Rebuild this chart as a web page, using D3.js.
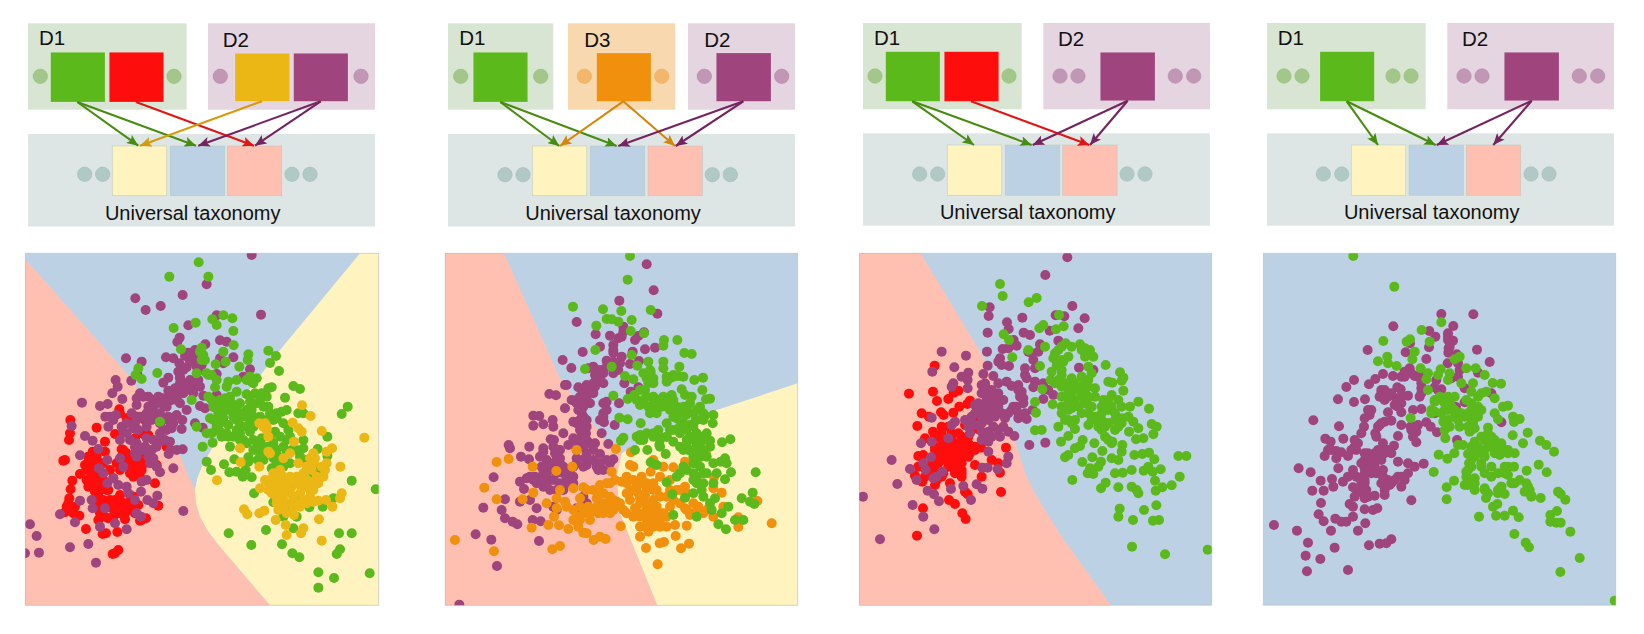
<!DOCTYPE html>
<html><head><meta charset="utf-8"><style>html,body{margin:0;background:#fff}svg{display:block}text{font-family:"Liberation Sans",sans-serif;fill:#111}</style>
<script src="https://cdn.jsdelivr.net/npm/d3@7"></script></head><body><svg id="c" width="1644" height="634"></svg>
<script>
// ---------- Data: embedding coordinates ----------
const p1Red=[151,510,150,550,147,570,230,533,255,575,135,630,130,632,180,672,157,692,152,718,148,745,140,770,135,787,165,770,178,797,198,837,235,810,258,850,248,852,292,846,265,805,280,800,315,808,360,812,378,805,350,768,415,767,405,700,410,645,375,555,365,550,345,565,440,590,320,505,298,478,335,497,372,502,285,552,305,598,320,620,330,640,345,660,360,635,340,680,300,660,280,685,255,605,218,605,205,620,195,645,225,640,215,665,235,680,220,700,205,710,240,720,235,740,250,765,245,785,275,775,285,750,305,770,330,760,300,735,330,735,355,765,290,640,250,640,270,660,240,705,330,670,350,640,325,630,360,680,285,910,295,900,278,912,315,790,260,720,225,770,205,640];
const p1RedCore=[230,620,240,640,210,630,200,660,225,690,250,690,265,720,230,750,250,750,265,760,225,725,240,770,270,750,300,750,290,770,320,760,340,740,305,620,315,640,335,655,350,650,320,610,310,600,345,670,355,650,240,790,280,770,300,790,345,790,325,780,365,810,370,620,375,640,365,660,330,500,350,500,375,510,300,490,375,550,385,555,235,660,200,690,210,700,215,680,150,770,160,790,145,760,255,800,240,760,230,700];
const p1Purple=[695,15,560,103,488,135,346,145,377,180,422,168,723,194,590,196,505,226,479,263,472,276,556,283,600,271,620,275,640,322,600,325,610,340,318,325,365,335,352,372,334,392,438,322,460,325,495,318,520,325,525,300,505,308,478,340,500,352,545,345,535,362,590,372,690,358,670,380,475,365,480,385,445,383,430,398,510,390,535,390,525,405,480,400,500,410,465,415,445,422,430,445,455,435,480,420,510,420,470,440,440,460,415,440,385,440,360,430,350,465,335,490,400,470,430,465,385,470,395,490,420,490,450,515,440,540,487,510,485,537,525,520,548,533,540,468,555,475,500,480,470,495,550,437,590,435,580,470,287,390,293,410,277,430,307,447,263,462,240,468,186,458,256,500,288,495,265,530,155,528,195,558,218,572,235,597,180,616,300,570,305,530,320,520,350,510,355,540,380,530,330,570,350,580,380,565,400,570,420,550,430,540,450,575,452,600,470,600,488,598,446,612,385,600,385,620,400,640,420,667,460,655,345,610,300,625,310,650,262,630,237,655,250,670,280,685,262,700,295,705,320,710,325,730,365,695,380,690,363,725,412,737,400,760,382,750,345,750,363,800,285,820,240,830,320,838,255,775,218,775,215,750,180,752,165,817,120,793,350,790,490,783,30,823,50,858,15,910,57,908,150,892,205,882,228,938];
const p1PurpleBand=[400,450,410,460,440,470,455,450,470,450,490,430,500,400,515,400,540,410,520,430,480,460,370,440,350,445,380,490,405,500,420,520,430,510,395,510,445,500,460,520,455,535,480,380,490,360,510,335,530,350,380,510,360,500,345,520,340,535,310,545,320,550,375,590,395,600,410,590,420,575,435,570,400,625,410,650,390,640,345,590,350,620,365,600,280,510,270,500];
const p1Green=[536,37,448,80,565,80,610,196,637,205,577,208,590,225,527,218,461,234,640,243,641,286,545,293,483,298,610,305,550,315,555,330,685,313,683,330,745,302,768,318,750,339,777,363,587,343,617,335,658,350,355,355,347,375,365,387,412,369,565,375,575,375,530,370,590,390,690,380,710,385,695,395,650,390,625,395,620,410,585,412,565,440,590,455,630,440,650,425,680,433,705,430,745,415,755,412,820,408,840,417,795,443,740,440,720,450,690,455,660,460,635,460,610,465,580,470,595,490,570,505,610,505,625,525,650,510,675,500,695,480,745,470,720,500,785,485,800,480,770,490,760,510,530,530,420,515,515,450,590,530,605,560,575,550,560,550,548,590,578,578,630,590,625,560,650,540,690,545,680,580,715,590,690,520,765,545,770,505,805,540,660,570,725,565,750,560,800,570,835,490,850,490,965,492,983,470,922,560,922,617,893,597,850,595,850,570,815,600,800,610,770,600,760,625,730,630,713,630,685,635,685,622,643,628,612,643,560,635,573,660,628,667,650,665,668,680,695,682,677,660,755,655,790,650,860,630,893,660,900,680,995,692,1067,718,702,730,760,757,830,750,868,772,908,770,940,745,800,775,790,800,830,800,820,835,738,840,626,850,694,885,786,883,817,910,838,922,957,850,995,850,960,898,950,912,895,967,942,984,1049,970,895,1013,810,560,775,620,840,620];
const p1GreenCore=[575,450,600,470,620,480,640,480,660,490,680,480,700,500,710,460,730,470,750,490,640,500,660,525,680,530,700,530,720,520,740,510,600,520,580,510,600,545,620,550,640,560,660,550,670,570,700,570,720,580,740,590,780,560,790,520,790,590,760,580,700,600,720,610,730,610,830,600,810,640,860,660,880,670,770,640,700,400,680,390,540,305,545,330,560,370,600,450,615,445,650,470,690,440,725,430];
const p1Yellow=[846,466,872,498,905,543,1033,563,936,595,920,605,718,520,735,520,740,540,745,560,818,518,835,535,845,545,822,575,660,595,662,637,745,605,790,625,810,610,835,640,880,610,882,640,920,640,915,660,961,650,718,650,735,690,745,700,775,680,760,670,810,680,860,690,880,700,845,715,815,710,790,700,760,720,720,715,591,691,770,745,790,750,870,740,895,700,910,680,895,752,918,750,965,730,960,745,937,770,840,770,822,795,775,780,767,810,797,825,800,855,850,835,843,850,897,808,905,872,672,778,682,793,718,790,733,782,800,720,830,680,850,670,775,710,755,730,820,740,870,720,880,755,790,770];
const p1YellowCore=[780,660,790,680,800,690,750,690,770,700,790,720,810,730,830,700,850,700,870,700,840,730,850,750,830,760,810,760,790,730,770,730,750,710,745,720,770,760,780,770,800,790,820,770,860,760,880,720,890,680,875,660,860,650,845,690,870,625,885,625,905,650,740,530,730,530,750,610,800,700];
const p2Purple=[620,43,641,121,538,152,652,191,410,216,550,230,550,245,612,247,467,253,510,257,535,265,595,258,585,270,480,290,428,306,520,285,520,308,615,298,645,293,578,305,545,320,530,340,500,332,570,342,597,333,368,330,394,354,460,350,445,355,490,370,480,385,535,360,520,370,553,400,595,412,572,425,375,405,380,405,328,432,348,436,415,412,440,405,430,425,465,410,470,390,500,455,490,490,480,510,492,517,524,525,537,460,450,460,430,470,410,450,395,450,375,475,425,490,400,515,425,525,440,530,438,550,485,550,370,550,332,568,342,570,280,497,298,498,338,510,340,530,280,527,310,523,206,585,210,595,268,590,243,620,267,628,310,595,310,605,350,600,345,610,360,625,400,565,420,565,440,570,465,580,480,612,385,585,410,625,435,625,505,582,520,628,510,640,490,660,470,650,440,645,430,650,400,650,370,650,330,650,320,630,305,650,310,670,285,680,260,685,240,695,252,717,290,700,310,710,330,720,360,700,380,700,400,680,400,700,370,720,340,770,350,780,290,775,240,755,195,748,130,773,185,780,195,805,218,815,232,823,278,810,302,814,161,682,270,750,430,740,440,760,410,775,297,873,107,853,154,869,171,948,58,1064,480,770];
const p2PurpleBand=[480,370,470,380,460,400,450,420,440,440,420,440,410,460,415,480,430,450,460,430,430,500,420,510,410,520,440,510,420,540,430,550,450,580,430,590,410,600,460,600,440,610,410,575,490,460,500,480,490,500,350,620,340,640,320,640,310,650,330,660,350,670,320,680,340,690,370,670,380,680,390,670,300,690,280,690,270,680,310,690,320,705,350,720,410,640,460,630,480,640,500,630,475,660,545,260,520,300,480,360,490,400,465,375,500,350,520,335,540,340,360,600,360,640,300,620,340,590];
const p2Orange=[410,600,528,597,573,607,397,650,349,663,278,650,170,636,206,627,133,713,170,748,248,748,280,728,320,760,350,745,375,755,350,775,400,715,430,712,380,770,460,720,480,705,510,700,525,690,545,695,515,665,570,645,580,650,640,630,632,665,670,650,700,652,735,635,798,612,822,682,845,728,820,715,735,710,710,720,690,690,660,680,605,680,590,710,560,700,570,725,620,715,650,720,680,740,640,750,600,745,570,750,530,755,500,765,470,745,490,730,445,770,430,790,410,800,450,810,475,790,510,790,550,780,585,775,620,780,650,770,690,770,735,775,760,760,790,790,750,795,620,810,600,830,650,800,680,830,705,825,740,827,625,845,600,860,707,858,659,880,672,876,747,881,723,895,618,894,653,943,542,829,325,825,357,826,385,837,275,833,342,800,415,830,430,848,440,850,461,870,480,860,497,867,360,888,337,898,45,870,162,904,995,820,895,802,895,831,952,753,850,770,820,800,800,780,775,770,770,785,580,800,560,790,530,770,490,790,510,740,420,745,360,720,610,700,640,700,640,790,600,800,660,830,670,790];
const p2OrangeCore=[400,780,420,770,440,780,470,770,490,760,510,770,520,780,500,700,470,720,440,720,560,680,580,690,600,700,620,700,640,720,660,740,600,760,620,760,640,770,660,790,700,750,720,720,740,730,760,790,600,790,620,790,640,810,660,810,680,800,620,830,640,830,580,720,560,730,540,760,690,720,720,760,740,780,420,810,400,810,450,790,490,770,520,750,595,730,615,735];
const p2Green=[570,18,563,89,632,180,399,170,489,178,544,183,500,207,515,208,535,215,575,210,469,227,572,243,612,250,672,270,670,287,712,270,733,309,755,312,466,300,575,315,625,335,592,347,670,335,718,350,670,355,715,378,700,375,680,395,690,385,435,357,515,350,555,378,580,388,632,365,640,385,625,400,615,420,763,390,789,383,787,420,725,418,735,435,695,435,640,440,655,450,620,440,583,435,563,447,520,437,600,465,630,490,625,470,665,470,690,480,720,480,750,460,770,480,755,440,798,448,810,446,795,497,820,495,818,520,790,510,767,510,738,495,710,505,680,520,655,540,620,550,590,560,600,555,538,503,563,508,602,520,550,563,543,572,585,600,622,600,658,585,677,612,700,575,720,590,750,560,770,550,800,550,810,572,846,577,871,568,855,625,842,635,860,640,745,600,770,610,760,640,730,650,710,680,650,645,632,637,760,670,790,670,830,670,855,688,873,667,947,667,820,700,770,700,760,730,735,743,697,733,680,697,825,745,810,760,790,740,785,720,815,780,845,790,865,770,770,800,700,795,835,823,858,838,885,810,905,745,938,728,930,755,943,762,910,810,800,620,780,580,740,570,690,540,660,590,720,530,750,525,700,450,670,440,600,420,590,450,650,465,640,480,700,500,730,520,760,600,810,590,770,630,660,560,680,560,640,550];
const p2GreenCore=[700,460,680,455,660,460,640,450,630,470,610,450,650,490,680,470,710,470,730,470,740,480,760,490,720,490,700,480,780,470,790,490,770,510,760,530,740,540,720,550,700,540,680,560,660,570,640,560,610,570,600,570,780,560,790,570,760,570,740,590,730,600,770,590,790,600,780,620,760,620,770,640,780,650,740,660,770,680,760,690,790,700,720,670,800,670,820,640,640,400,620,385,610,370,630,360,700,380,680,380,730,380];
const p3Red=[239,347,162,431,234,425,296,428,310,422,345,452,337,462,280,447,246,453,313,470,200,490,222,500,258,487,266,495,295,488,187,528,234,545,260,550,280,530,330,525,370,538,210,565,240,590,265,580,290,570,320,560,340,580,360,590,378,593,453,593,410,630,430,640,360,645,190,618,205,615,240,620,265,610,300,600,330,610,290,630,310,640,320,620,190,650,240,655,265,670,180,677,202,695,240,705,285,700,320,680,300,660,380,680,435,668,438,726,330,725,338,733,282,750,300,762,204,775,322,790,332,807,186,857,400,432,320,580,280,600,330,590,300,580,270,620,345,610,310,600,230,670,365,500];
const p3RedCore=[240,600,260,600,280,590,300,590,320,600,340,600,350,590,360,600,280,610,300,610,320,610,340,620,280,630,300,630,320,640,300,650,280,650,260,630,250,640,310,660,320,660,300,670,320,670,340,560,350,540,310,550,290,550,260,530,240,560,255,565,250,620,230,640,220,650,210,680,245,690,260,680];
const p3Purple=[637,22,571,75,652,168,404,172,401,198,502,203,602,196,628,199,689,205,670,235,584,242,456,217,461,237,398,248,506,248,525,255,476,270,485,287,555,283,610,272,396,305,443,297,460,295,520,305,550,305,535,330,530,310,435,325,430,335,440,345,462,348,540,355,510,355,510,375,515,385,398,347,385,372,672,353,715,360,260,305,333,317,298,352,232,365,340,368,320,380,338,390,338,415,295,400,290,410,415,378,390,400,380,405,430,400,455,395,470,408,490,405,500,425,505,445,540,395,535,412,565,400,580,420,565,447,595,435,380,430,395,450,420,440,445,450,360,465,370,460,400,470,420,480,440,490,470,480,485,470,505,460,460,490,490,505,515,507,533,480,450,505,230,503,350,500,300,515,360,525,380,520,415,530,400,545,435,560,460,545,478,558,523,585,571,578,345,550,330,510,280,565,290,525,230,575,198,580,228,622,110,630,165,657,205,640,212,660,235,685,245,680,262,665,382,653,398,653,400,605,460,620,455,640,428,658,288,717,325,708,365,703,382,716,218,722,237,733,252,754,185,690,127,702,24,740,173,765,205,800,238,838,75,868,348,750,635,410];
const p3PurpleBand=[390,430,400,440,410,450,420,460,430,470,390,470,380,480,370,480,400,490,410,480,380,500,400,510,420,500,360,490,430,430,410,420,395,415,490,420,495,440,475,470,490,490,510,490,345,510,340,530,380,545,395,560,430,540,445,530,410,560,380,570,400,575];
const p3Green=[435,102,443,138,381,168,521,157,545,144,612,195,553,235,565,225,603,238,626,229,446,253,462,270,570,290,632,280,650,290,675,283,690,295,705,300,715,320,610,300,595,325,605,345,625,335,472,322,520,300,555,348,752,345,795,367,805,383,800,392,805,422,590,365,587,390,620,375,650,385,680,380,710,370,620,410,640,420,660,410,690,420,720,415,760,395,772,398,562,418,540,456,543,488,593,463,620,440,640,450,680,440,720,440,770,435,745,450,790,450,850,455,882,476,825,470,700,465,650,475,620,490,640,510,610,530,660,510,700,525,740,510,770,470,800,505,820,500,850,535,890,522,905,530,895,553,822,545,780,540,740,540,730,520,540,541,560,540,640,558,618,575,660,537,683,570,718,580,660,595,675,588,760,570,772,575,802,585,800,605,742,603,712,622,682,636,640,615,630,622,865,565,843,568,838,615,862,612,882,608,898,628,970,618,994,618,770,625,790,630,738,635,730,650,705,655,698,670,715,672,780,670,803,668,830,660,866,662,880,650,893,665,917,658,900,692,974,680,652,690,752,698,738,715,790,712,830,710,845,720,850,730,902,722,922,712,950,706,794,776,790,800,834,810,867,780,904,766,894,812,912,810,831,890,930,913,1058,899,700,490,680,490,660,450,760,520,640,480];
const p3GreenCore=[600,310,620,290,620,330,640,400,600,400,610,390,630,400,650,430,670,420,690,400,700,410,680,410,700,440,690,460,710,470,670,470,690,450,640,440,650,460,620,470,720,500,740,490,760,480,750,470,760,450,780,490,740,470,710,510,730,530,750,530,760,520,780,510,730,500,660,400,700,350,690,320,680,300,640,320,620,360,700,390,750,560,770,580,790,530,800,520,800,470,630,510,650,520,630,475,835,515];
const p4Purple=[550,192,646,193,406,229,586,228,514,243,532,260,570,250,570,270,585,272,513,292,572,295,571,308,329,300,456,280,443,307,657,299,505,327,695,336,596,313,569,340,600,340,605,360,600,380,660,368,455,355,440,365,430,380,470,378,490,370,405,378,375,372,352,387,333,403,288,390,265,411,240,448,288,456,321,448,370,420,380,420,365,440,418,412,428,418,380,450,415,445,410,465,430,460,450,437,490,415,485,440,535,390,530,412,550,418,620,415,620,457,594,471,700,430,730,517,166,511,243,529,256,566,320,505,340,480,335,495,390,487,430,487,465,480,490,477,400,512,380,515,365,525,352,550,355,560,318,530,310,550,290,570,295,600,430,525,458,530,480,525,505,517,518,530,537,547,475,545,465,560,475,577,420,558,408,587,202,566,218,575,210,600,235,603,250,607,270,618,200,618,235,625,241,655,122,655,158,667,188,692,222,687,226,710,197,722,163,722,189,759,255,695,285,660,270,680,295,680,330,610,345,620,360,600,375,580,400,610,420,635,320,640,330,660,350,650,375,660,450,640,470,650,497,641,320,690,325,720,380,690,380,720,395,705,430,710,420,680,450,670,440,690,350,737,380,735,285,712,305,715,320,745,290,740,275,762,285,770,460,751,320,778,345,780,358,775,182,793,197,814,232,806,250,815,265,815,285,800,322,820,219,842,300,842,48,825,117,842,150,878,143,917,187,927,147,964,230,893,270,960,333,886,365,881,385,880,400,868,597,570,530,490,580,385];
const p4PurpleBand=[320,610,330,620,340,630,350,610,360,620,370,600,380,610,320,630,330,640,340,650,350,630,370,630,390,600,320,655,310,640,320,670,340,670,355,670,375,680,310,700,300,720,320,700,330,740,315,730,370,700,390,690,400,700,410,690,430,680,280,600,290,590,300,580,240,610,220,600,370,430,390,440,400,430,420,470,430,440,360,530,370,520,460,540,470,530,440,380,460,370,480,380,490,400,490,430,330,480,540,420,570,260,575,290];
const p4Green=[286,18,409,110,550,217,491,240,376,273,446,275,456,268,515,275,470,305,388,320,463,328,360,334,390,340,416,348,605,320,590,328,625,355,653,355,680,375,548,358,540,375,575,370,570,390,505,388,510,420,488,355,510,370,610,400,645,400,704,399,729,401,640,425,685,425,530,455,545,440,580,445,710,445,735,470,750,467,458,504,520,490,530,485,560,460,570,480,610,490,650,470,670,480,710,490,720,508,765,500,785,507,768,516,556,515,575,530,605,530,640,510,650,535,690,533,690,550,764,556,809,548,795,580,846,572,865,585,888,605,562,565,600,585,615,585,650,575,680,570,710,570,730,580,750,600,770,610,725,615,680,600,630,612,589,610,542,614,568,626,527,666,633,640,670,640,700,650,750,650,768,650,842,644,806,662,866,667,625,665,650,685,625,680,680,670,720,670,750,675,588,692,566,712,566,748,620,705,650,720,680,715,730,710,765,700,785,690,805,700,815,720,800,725,820,737,848,744,684,744,740,732,720,720,900,725,908,732,922,749,705,770,718,762,663,800,714,797,740,797,765,782,782,802,897,783,877,795,877,815,895,818,908,818,937,845,769,852,803,878,813,892,965,924,907,966,1070,1052,640,460,660,500,635,545,720,595,640,630,700,680];
const p4GreenCore=[550,450,565,450,580,470,590,480,560,480,550,490,570,510,590,500,600,510,620,500,630,490,640,480,650,490,660,470,645,520,630,530,640,540,570,440,590,440,625,450,660,440,670,430,640,590,650,600,660,610,680,620,670,650,650,620,640,650,630,660,700,590,720,590,740,600,730,610,750,610,710,610,720,600,690,580,700,560,660,590,740,650,740,670,760,700,770,700,730,710,720,730,640,690,630,705,650,700,680,720,690,730,670,560,820,740,810,710,560,540,530,450,520,480];
// decision regions (same embedding coordinates)
const p1Pink=[16,10,16,28,320,370,470,590,500,665,525,720,528,760,540,800,565,845,600,890,750,1066,16,1066];
const p1Sand=[1020,10,1076,10,1076,1066,750,1066,600,890,565,845,540,800,528,760,525,720,532,685,548,645,640,480,780,300];
const p2Pink=[16,10,192,10,360,385,500,575,545,610,530,680,540,790,652,1066,16,1066];
const p2Sand=[1073,400,1073,1066,652,1066,540,790,530,680,545,610,580,590,700,530,830,480];
const p3Pink=[13,10,197,10,390,330,470,540,495,620,515,680,540,730,570,780,620,860,768,1066,13,1066];
const colors={green:"#5cb91b",red:"#fe0d0d",purple:"#a0447e",gold:"#ebb715",orange:"#f0900c",blue:"#bdd1e5",pink:"#ffc0b2",sand:"#fff4c0"};
const pairs=a=>d3.range(0,a.length,2).map(i=>[a[i],a[i+1]]);
const panels=[
 {dx:[16,1076],dy:[10,1066],rx:[25.3,378.7],regions:[[p1Pink,"pink"],[p1Sand,"sand"]],series:[[p1Red.concat(p1RedCore),"red"],[p1Purple.concat(p1PurpleBand),"purple"],[p1Green.concat(p1GreenCore),"green"],[p1Yellow.concat(p1YellowCore),"gold"]]},
 {dx:[16,1073],dy:[10,1066],rx:[445.3,797.7],regions:[[p2Pink,"pink"],[p2Sand,"sand"]],series:[[p2Purple.concat(p2PurpleBand),"purple"],[p2Orange.concat(p2OrangeCore),"orange"],[p2Green.concat(p2GreenCore),"green"]]},
 {dx:[13,1070],dy:[10,1066],rx:[859.3,1211.7],regions:[[p3Pink,"pink"]],series:[[p3Red.concat(p3RedCore),"red"],[p3Purple.concat(p3PurpleBand),"purple"],[p3Green.concat(p3GreenCore),"green"]]},
 {dx:[16,1073],dy:[10,1066],rx:[1263.3,1615.7],regions:[],series:[[p4Purple.concat(p4PurpleBand),"purple"],[p4Green.concat(p4GreenCore),"green"]]}
];
// ---------- Schematics ----------
const dom={green:{bg:"#d9e5d3",dot:"#a3c78a",st:"#94bd78"},purple:{bg:"#e5d5e0",dot:"#c297b5",st:"#b687a8"},orange:{bg:"#f8d8ae",dot:"#f3b76b",st:"#efae5b"},uni:{bg:"#dee6e5",dot:"#b0c9c5",st:"#9fbdb8"}};
const arrowCol={green:"#478c10",red:"#e21414",gold:"#d69b0a",orange:"#d4860c",purple:"#74245f"};
const diagrams=[
 {boxes:[["green",28,186.7,"D1",39,45],["purple",208,375,"D2",222.7,47]],y0:23.3,y1:109.7,sq:[["green",50.7,105,52.3,102],["red",109.3,163.7,52.3,102],["gold",235,289.7,53.3,101.3],["purple",293.7,348,53.3,101.3]],
  dots:[["green",40.3],["green",174],["purple",220.3],["purple",361]],dotY:76.3,ux:[28,375],uy:[134,226.5],usq:[112.3,170.3,227.3],uw:54.4,usy:[146,195.7],ud:[84.7,102.7,292,310],udy:174.3,tx:192.7,ty:220,
  arrows:[["green",77.3,102,138.3,145.7],["green",77.3,102,196,145.7],["red",136,102,254,145.7],["gold",262,101.3,140,145.7],["purple",320.7,101.3,198.3,145.7],["purple",320.7,101.3,255,145.7]]},
 {boxes:[["green",448,553.3,"D1",459.3,45],["orange",568,675.3,"D3",584.3,47],["purple",688,795,"D2",704.3,47]],y0:23.3,y1:109.7,sq:[["green",473.3,527.7,52.3,102],["orange",596.7,651,53,101.3],["purple",716.3,771,53,101.3]],
  dots:[["green",460.7],["green",540.7],["orange",584.3],["orange",661.7],["purple",704.3],["purple",781.7]],dotY:76.3,ux:[448,795],uy:[134,226.5],usq:[532.3,590.3,648],uw:54.4,usy:[146,195.7],ud:[505,523,712.3,730.3],udy:174.7,tx:613,ty:220,
  arrows:[["green",500.3,102,559.3,146],["green",500.3,102,616.7,146],["orange",623.3,101.3,560,146],["orange",623.3,101.3,675,146],["purple",743.3,101.3,618.3,146],["purple",743.3,101.3,675.7,146]]},
 {boxes:[["green",863,1021.7,"D1",874,44.5],["purple",1043.3,1210,"D2",1058,45.5]],y0:23,y1:109.3,sq:[["green",885.7,940,51.7,101.3],["red",944.3,998.7,51.7,101.3],["purple",1100.3,1155,52.3,100.7]],
  dots:[["green",875],["green",1009],["purple",1060],["purple",1078],["purple",1175.3],["purple",1193.7]],dotY:76,ux:[863,1210],uy:[133.3,225.7],usq:[947.3,1005.3,1062.7],uw:54.4,usy:[145,195.3],ud:[919.7,937.7,1127,1145],udy:174,tx:1027.7,ty:219.3,
  arrows:[["green",912.3,101.3,974,145],["green",912.3,101.3,1031.7,145],["red",971,101.3,1089.3,145],["purple",1127.7,100.7,1032.7,145],["purple",1127.7,100.7,1090,145]]},
 {boxes:[["green",1267,1425.7,"D1",1277.7,44.5],["purple",1447.3,1614,"D2",1462,45.5]],y0:23,y1:109.3,sq:[["green",1320,1374.3,51.7,101.3],["purple",1504.3,1559,52.3,100.7]],
  dots:[["green",1284],["green",1302],["green",1393],["green",1411],["purple",1464],["purple",1482],["purple",1579.3],["purple",1597.7]],dotY:76,ux:[1267,1614],uy:[133.3,225.7],usq:[1351.3,1409,1466.3],uw:54.4,usy:[145,195.3],ud:[1323.3,1341.7,1531,1549],udy:174,tx:1431.7,ty:219.3,
  arrows:[["green",1346.7,101.3,1378,145],["green",1346.7,101.3,1435.7,145],["purple",1531.7,100.7,1436.7,145],["purple",1531.7,100.7,1493.3,145]]}
];
// ---------- Draw ----------
const svg=d3.select("#c");
const defs=svg.append("defs");
Object.entries(arrowCol).forEach(([k,c])=>{
 defs.append("marker").attr("id","a-"+k).attr("markerUnits","userSpaceOnUse").attr("markerWidth",12).attr("markerHeight",10).attr("refX",11.5).attr("refY",5).attr("orient","auto")
  .append("path").attr("d","M0,0L11.5,5L0,10L2.5,5Z").attr("fill",c);
});
const top0=253.3, bot0=605.3;
panels.forEach(p=>{
 const x=d3.scaleLinear().domain(p.dx).range(p.rx), y=d3.scaleLinear().domain(p.dy).range([top0,bot0]);
 const g=svg.append("g");
 g.append("rect").attr("x",p.rx[0]).attr("y",top0).attr("width",p.rx[1]-p.rx[0]).attr("height",bot0-top0).attr("fill",colors.blue);
 const id="clip"+Math.round(p.rx[0]);
 defs.append("clipPath").attr("id",id).append("rect").attr("x",p.rx[0]).attr("y",top0).attr("width",p.rx[1]-p.rx[0]).attr("height",bot0-top0);
 const line=d3.line().x(d=>x(d[0])).y(d=>y(d[1]));
 p.regions.forEach(([r,c])=>g.append("path").attr("d",line(pairs(r))+"Z").attr("fill",colors[c]));
 g.append("rect").attr("x",p.rx[0]).attr("y",top0).attr("width",p.rx[1]-p.rx[0]).attr("height",bot0-top0).attr("fill","none").attr("stroke","#8f9aa3").attr("stroke-opacity",.3);
 const pg=g.append("g").attr("clip-path",`url(#${id})`);
 p.series.forEach(([s,c])=>pg.selectAll(null).data(pairs(s)).join("circle").attr("cx",d=>x(d[0])).attr("cy",d=>y(d[1])).attr("r",5).attr("fill",colors[c]));
});
diagrams.forEach(d=>{
 const g=svg.append("g");
 d.boxes.forEach(([k,a,b,lab,lx,ly])=>{
  g.append("rect").attr("x",a).attr("y",d.y0).attr("width",b-a).attr("height",d.y1-d.y0).attr("fill",dom[k].bg);
  g.append("text").attr("x",lx).attr("y",ly).attr("font-size",20.5).text(lab);
 });
 g.append("rect").attr("x",d.ux[0]).attr("y",d.uy[0]).attr("width",d.ux[1]-d.ux[0]).attr("height",d.uy[1]-d.uy[0]).attr("fill",dom.uni.bg);
 d.dots.forEach(([k,cx])=>g.append("circle").attr("cx",cx).attr("cy",d.dotY).attr("r",7.2).attr("fill",dom[k].dot).attr("stroke",dom[k].st).attr("stroke-width",.6));
 d.ud.forEach(cx=>g.append("circle").attr("cx",cx).attr("cy",d.udy).attr("r",7.2).attr("fill",dom.uni.dot).attr("stroke",dom.uni.st).attr("stroke-width",.6));
 d.sq.forEach(([k,a,b,t,e])=>g.append("rect").attr("x",a).attr("y",t).attr("width",b-a).attr("height",e-t).attr("fill",colors[k]).attr("stroke","#fff").attr("stroke-opacity",.25).attr("stroke-width",.6));
 ["sand","blue","pink"].forEach((k,i)=>g.append("rect").attr("x",d.usq[i]).attr("y",d.usy[0]).attr("width",d.uw).attr("height",d.usy[1]-d.usy[0]).attr("fill",colors[k]).attr("stroke","#b4c6b8").attr("stroke-opacity",.7).attr("stroke-width",.7));
 g.append("text").attr("x",d.tx).attr("y",d.ty).attr("text-anchor","middle").attr("font-size",20).text("Universal taxonomy");
 d.arrows.forEach(([k,x1,y1,x2,y2])=>g.append("line").attr("x1",x1).attr("y1",y1).attr("x2",x2).attr("y2",y2).attr("stroke",arrowCol[k]).attr("stroke-width",2.1).attr("marker-end",`url(#a-${k})`));
});
</script></body></html>
